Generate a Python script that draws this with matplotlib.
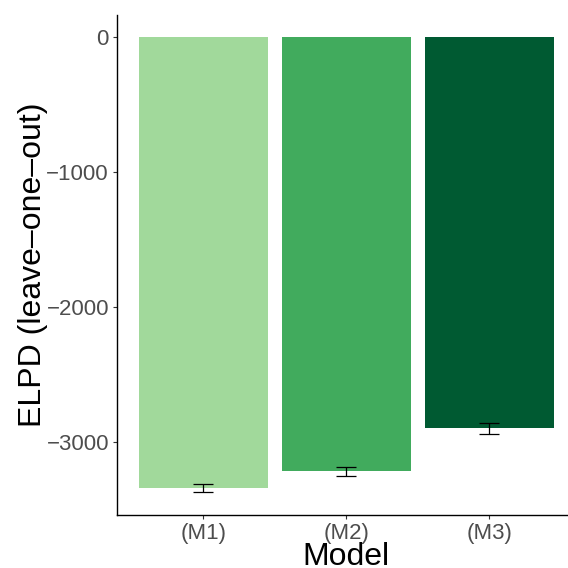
import matplotlib
matplotlib.use("Agg")
import matplotlib.pyplot as plt
import numpy as np

models = ["(M1)", "(M2)", "(M3)"]
elpd = [-3339, -3218, -2899]
se = [31, 32, 40]
colors = ["#A1D99B", "#41AB5D", "#005A32"]
yticks = [0, -1000, -2000, -3000]

plt.rcParams['font.family'] = ['Liberation Sans', 'DejaVu Sans']

fig = plt.figure(figsize=(5.68, 5.68), dpi=100)
ax = fig.add_axes([117.3/568, 53.3/568, (575.3-117.3)/568, (515-15)/568])

x = np.arange(1, len(models) + 1)
ax.bar(x, elpd, width=0.9, color=colors, zorder=1)
ax.errorbar(x, elpd, yerr=se, fmt='none', ecolor='black', elinewidth=0.9,
            capsize=7.5, capthick=0.9, zorder=2)

lo = min(e - s for e, s in zip(elpd, se))
rng = 0 - lo
ax.set_ylim(lo - 0.05 * rng, 0 + 0.05 * rng)
ax.set_xlim(0.4, 3.6)

ax.set_xticks(x)
ax.set_xticklabels(models)
ax.set_yticks(yticks)
ax.set_yticklabels([str(v).replace('-', '\u2212') for v in yticks])

for s in ['top', 'right']:
    ax.spines[s].set_visible(False)
for s in ['left', 'bottom']:
    ax.spines[s].set_linewidth(1.0)
    ax.spines[s].set_color('black')

ax.tick_params(axis='both', length=3, width=0.8, color='#333333',
               labelcolor='#4D4D4D', labelsize=16, pad=3)

ax.set_xlabel("Model", fontsize=23, labelpad=-1.5, color='black')
ax.set_ylabel("ELPD (leave\u2013one\u2013out)", fontsize=23, labelpad=-1, color='black')

fig.savefig("out.png", dpi=100)
